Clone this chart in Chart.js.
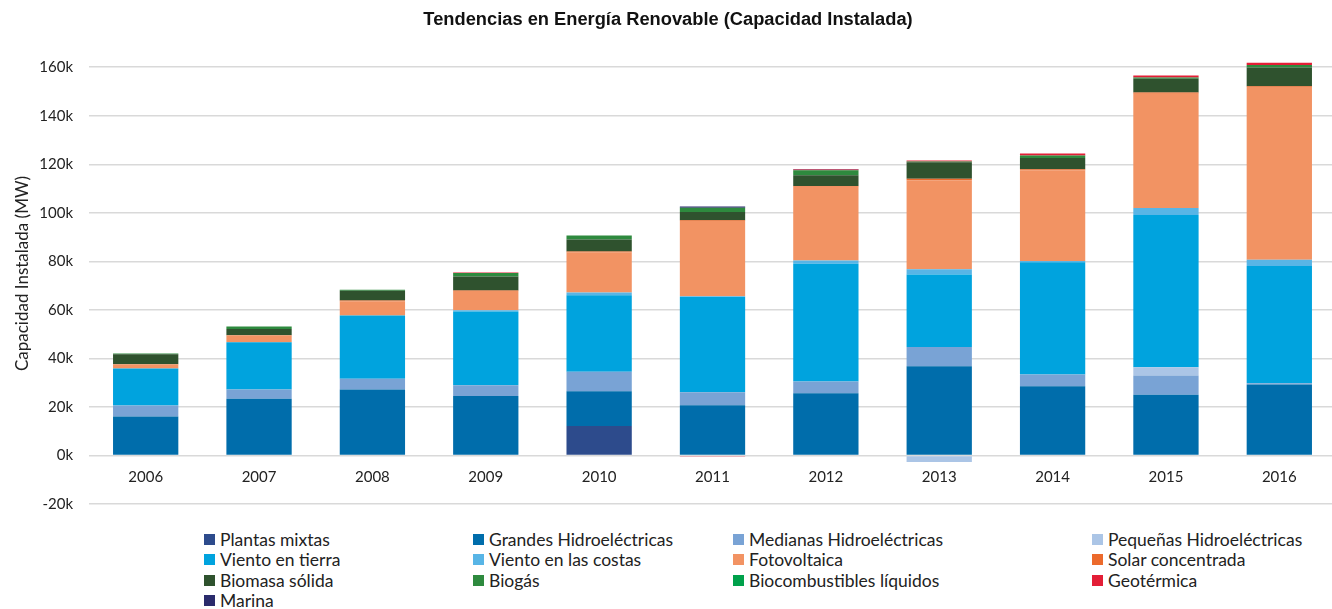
<!DOCTYPE html>
<html>
<head>
<meta charset="utf-8">
<script src="https://cdn.jsdelivr.net/npm/chart.js@4.4.1/dist/chart.umd.min.js"></script>
<style>
  body { margin: 0; background: #fff; overflow: hidden; width: 1332px; height: 609px; position: relative; }
  #wrap { position: absolute; left: 0; top: 0; width: 1336px; height: 529px; }
  #legend { position: absolute; left: 204px; top: 529px; font-family: Lato, "Open Sans", sans-serif; font-size: 17.5px; color: #222;
    display: grid; grid-template-columns: 269px 260px 359px 220px; grid-auto-rows: 20.5px; }
  .item { display: flex; align-items: center; white-space: nowrap; }
  .box { width: 11px; height: 11px; margin-right: 5px; }
</style>
</head>
<body>
<div id="wrap"><canvas id="chart"></canvas></div>
<div id="legend"></div>
<script>
// Datos (miles de MW)
const years = ["2006", "2007", "2008", "2009", "2010", "2011", "2012", "2013", "2014", "2015", "2016"];

const plantasMixtas = [0, 0, 0, 0, 12.1, 0, 0, 0, 0, 0, 0];
const grandesHidro = [16.1, 23.4, 27.2, 24.5, 14.4, 20.7, 25.6, 36.8, 28.5, 25.0, 29.2];
const medianasHidro = [4.5, 3.8, 4.4, 4.4, 8.0, 5.4, 4.9, 7.9, 4.9, 8.0, 0.6];
const pequenasHidro = [0, 0, 0, 0, 0, 0, 0, -2.7, 0, 3.4, 0];
const vientoTierra = [15.2, 19.5, 26.1, 30.4, 31.5, 39.2, 48.5, 29.9, 46.2, 62.7, 48.3];
const vientoCostas = [0, 0, 0, 0.5, 1.2, 0.3, 1.4, 2.1, 0.5, 2.9, 2.6];
const fotovoltaica = [1.8, 2.8, 5.9, 8.0, 16.4, 31.0, 30.3, 36.7, 37.4, 47.1, 71.2];
const solarConc = [0, 0, 0.3, 0.2, 0.5, 0.3, 0.4, 0.6, 0.5, 0.5, 0.3];
const biomasa = [4.1, 2.6, 4.0, 5.8, 4.9, 3.4, 4.4, 6.8, 4.6, 5.7, 7.7];
const biogas = [0.3, 1.1, 0.4, 1.4, 1.7, 1.8, 2.0, 0.3, 1.0, 0.5, 1.0];
const biocombustibles = [0, 0, 0, 0, 0, 0, 0, 0, 0, 0, 0];
const geotermica = [0, 0, 0, 0.2, 0, -0.4, 0.3, 0.5, 0.8, 0.8, 0.9];
const marina = [0, 0, 0, 0, 0, 0.5, 0.3, 0, 0, 0, 0];

const yTicks = [-20, 0, 20, 40, 60, 80, 100, 120, 140, 160];

const series = [
  ["Plantas mixtas", plantasMixtas, "#2d4b8c"],
  ["Grandes Hidroeléctricas", grandesHidro, "#006dab"],
  ["Medianas Hidroeléctricas", medianasHidro, "#79a3d5"],
  ["Pequeñas Hidroeléctricas", pequenasHidro, "#abc5e6"],
  ["Viento en tierra", vientoTierra, "#00a3de"],
  ["Viento en las costas", vientoCostas, "#58b5e6"],
  ["Fotovoltaica", fotovoltaica, "#f29363"],
  ["Solar concentrada", solarConc, "#ec6a2c"],
  ["Biomasa sólida", biomasa, "#2f522e"],
  ["Biogás", biogas, "#2e8a3e"],
  ["Biocombustibles líquidos", biocombustibles, "#00a14b"],
  ["Geotérmica", geotermica, "#e31e36"],
  ["Marina", marina, "#2a2b6c"],
];

const fontAxis = "Lato, 'Open Sans', sans-serif";

const chart = new Chart(document.getElementById("chart"), {
  type: "bar",
  data: {
    labels: years,
    datasets: series.map(([label, data, color]) => ({
      label: label,
      data: data,
      backgroundColor: color,
      borderWidth: 0,
      categoryPercentage: 0.8,
      barPercentage: 0.72,
    })),
  },
  options: {
    responsive: true,
    maintainAspectRatio: false,
    animation: false,
    layout: { padding: 0 },
    plugins: {
      legend: { display: false },
      tooltip: { enabled: false },
      title: {
        display: true,
        text: "Tendencias en Energía Renovable (Capacidad Instalada)",
        color: "#111",
        font: { family: "'Liberation Sans', Arial, sans-serif", size: 18.3, weight: "bold" },
        padding: { top: 9, bottom: 12 },
      },
    },
    scales: {
      x: {
        stacked: true,
        position: { y: 0 },
        afterFit: (axis) => { axis.height = 0; },
        grid: { display: false },
        border: { display: false },
        ticks: { color: "#222", font: { family: fontAxis, size: 15 }, padding: 5 },
      },
      y: {
        stacked: true,
        min: -20,
        max: 170,
        afterBuildTicks: (axis) => {
          axis.ticks = yTicks.map((v) => ({ value: v }));
        },
        afterFit: (axis) => { axis.width = 89; },
        grid: { color: "#d9d9d9", lineWidth: 1.5, drawTicks: false },
        border: { display: false },
        ticks: { color: "#222", font: { family: fontAxis, size: 15 }, padding: 16, callback: (v) => v + "k" },
        title: {
          display: true,
          text: "Capacidad Instalada (MW)",
          color: "#222",
          font: { family: fontAxis, size: 17 },
          padding: { top: 12, bottom: 0 },
        },
      },
    },
  },
});

// Leyenda en columnas
const legendDiv = document.getElementById("legend");
series.forEach(([label, data, color]) => {
  const item = document.createElement("div");
  item.className = "item";
  item.innerHTML = `<span class="box" style="background:${color}"></span><span>${label}</span>`;
  legendDiv.appendChild(item);
});
</script>
</body>
</html>
